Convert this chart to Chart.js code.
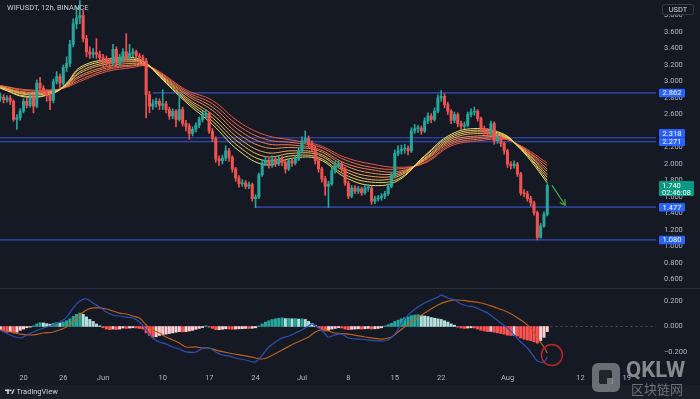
<!DOCTYPE html>
<html><head><meta charset="utf-8">
<script src="https://cdn.jsdelivr.net/npm/chart.js@4.4.1/dist/chart.umd.min.js"></script>
<style>
html,body{margin:0;padding:0;background:#151923;width:700px;height:399px;overflow:hidden;}
#c1{position:absolute;left:0;top:0;}
#c2{position:absolute;left:0;top:288px;}
</style></head><body>
<canvas id="c1" width="700" height="288"></canvas>
<canvas id="c2" width="700" height="111"></canvas>
<script>
// ---------- DATA (12h candles, index 0 = May 16 12:00) ----------
const titleText = 'WIFUSDT, 12h, BINANCE';
const firstOpen = 2.80;
const closes = [
2.81,2.78,2.80,2.76,2.54,2.56,2.64,2.76,2.71,2.81,
2.70,2.98,2.92,2.88,2.83,2.77,3.00,3.06,2.98,3.17,
3.22,3.45,3.70,3.77,3.80,3.52,3.36,3.33,3.35,3.33,
3.29,3.28,3.24,3.22,3.39,3.22,3.29,3.36,3.29,3.34,
3.36,3.31,3.29,3.25,2.84,2.70,2.73,2.76,2.71,2.73,
2.66,2.58,2.64,2.54,2.66,2.49,2.46,2.37,2.42,2.47,
2.54,2.60,2.61,2.40,2.31,2.06,2.04,2.07,2.16,2.08,
1.94,1.83,1.76,1.77,1.73,1.75,1.58,1.60,1.87,2.01,
2.04,1.98,2.06,2.00,2.06,2.02,1.94,2.04,2.01,2.06,
2.16,2.28,2.31,2.24,2.19,2.04,1.94,1.82,1.73,1.76,
1.92,1.98,2.00,1.94,1.77,1.61,1.71,1.67,1.70,1.65,
1.71,1.71,1.55,1.58,1.59,1.61,1.64,1.73,1.86,2.13,
2.16,2.18,2.19,2.16,2.40,2.43,2.43,2.40,2.52,2.58,
2.54,2.64,2.80,2.82,2.72,2.64,2.53,2.60,2.49,2.46,
2.47,2.60,2.63,2.64,2.55,2.43,2.40,2.37,2.49,2.28,
2.31,2.25,2.16,2.00,1.98,2.00,1.88,1.65,1.64,1.58,
1.53,1.41,1.11,1.25,1.39,1.74];
const highs = [
2.86,2.84,2.83,2.83,2.78,2.60,2.67,2.79,2.80,2.85,
2.84,3.02,3.05,2.95,2.90,2.86,3.03,3.12,3.09,3.20,
3.30,3.50,3.76,3.90,3.98,3.86,3.56,3.42,3.40,3.52,
3.37,3.33,3.31,3.28,3.45,3.42,3.33,3.40,3.58,3.45,
3.40,3.38,3.34,3.32,3.28,2.88,2.78,2.80,2.79,2.90,
2.76,2.69,2.67,2.66,2.86,2.69,2.53,2.49,2.45,2.50,
2.57,2.64,2.66,2.63,2.43,2.33,2.10,2.11,2.22,2.19,
2.10,1.96,1.86,1.81,1.80,1.78,1.77,1.63,1.89,2.05,
2.09,2.07,2.10,2.08,2.10,2.09,2.05,2.07,2.07,2.10,
2.20,2.33,2.40,2.34,2.28,2.22,2.06,1.96,1.85,1.79,
1.95,2.03,2.04,2.02,1.96,1.79,1.74,1.74,1.73,1.72,
1.74,1.75,1.73,1.61,1.62,1.64,1.67,1.76,1.89,2.17,
2.22,2.23,2.24,2.22,2.44,2.48,2.47,2.46,2.56,2.62,
2.61,2.68,2.84,2.89,2.85,2.75,2.66,2.63,2.62,2.52,
2.51,2.63,2.67,2.69,2.66,2.57,2.46,2.43,2.52,2.51,
2.35,2.34,2.27,2.18,2.03,2.04,2.02,1.90,1.69,1.67,
1.61,1.55,1.43,1.28,1.42,1.76];
const lows = [
2.76,2.74,2.75,2.72,2.52,2.42,2.53,2.62,2.68,2.69,
2.62,2.68,2.89,2.85,2.76,2.66,2.74,2.97,2.92,2.95,
3.12,3.18,3.42,3.64,3.70,3.48,3.30,3.28,3.29,3.28,
3.23,3.18,3.18,3.16,3.20,3.18,3.19,3.26,3.26,3.27,
3.30,3.27,3.22,3.20,2.56,2.62,2.66,2.69,2.66,2.66,
2.62,2.54,2.55,2.45,2.52,2.46,2.40,2.30,2.34,2.39,
2.44,2.51,2.56,2.37,2.27,2.02,1.98,2.00,2.04,2.03,
1.90,1.79,1.72,1.73,1.70,1.70,1.55,1.47,1.58,1.85,
1.98,1.95,1.96,1.97,1.98,1.98,1.89,1.92,1.97,1.99,
2.04,2.14,2.25,2.20,2.15,2.00,1.90,1.78,1.62,1.47,
1.74,1.89,1.95,1.91,1.74,1.58,1.59,1.64,1.64,1.62,
1.63,1.67,1.51,1.52,1.55,1.56,1.58,1.62,1.71,1.84,
2.10,2.12,2.13,2.11,2.14,2.37,2.38,2.36,2.38,2.49,
2.50,2.52,2.62,2.76,2.68,2.60,2.49,2.50,2.45,2.42,
2.43,2.45,2.57,2.59,2.52,2.40,2.36,2.33,2.35,2.24,
2.25,2.21,2.12,1.96,1.94,1.95,1.85,1.62,1.60,1.55,
1.49,1.38,1.08,1.10,1.23,1.37];

// EMA ribbon, read at these candle indices (fast = ema1 ... slow = ema8)
const ribbonIdx = [0,8,16,20,24,32,40,44,48,56,64,72,80,88,96,104,112,120,128,136,144,152,156,160,165];
const ema1 = [2.92,2.81,2.86,2.98,3.17,3.27,3.29,3.22,3.06,2.75,2.48,2.16,1.99,2.07,2.06,1.84,1.74,1.80,2.10,2.36,2.43,2.36,2.22,2.04,1.77];
const ema2 = [2.92,2.82,2.86,2.97,3.15,3.25,3.27,3.22,3.07,2.77,2.52,2.21,2.04,2.10,2.08,1.87,1.78,1.82,2.09,2.34,2.41,2.35,2.22,2.06,1.80];
const ema3 = [2.93,2.84,2.87,2.96,3.12,3.23,3.26,3.21,3.08,2.79,2.56,2.26,2.09,2.13,2.11,1.91,1.81,1.85,2.07,2.32,2.39,2.34,2.23,2.07,1.84];
const ema4 = [2.93,2.85,2.88,2.96,3.10,3.21,3.24,3.21,3.09,2.81,2.60,2.31,2.14,2.16,2.13,1.94,1.85,1.87,2.06,2.30,2.37,2.33,2.23,2.09,1.87];
const ema5 = [2.94,2.86,2.88,2.95,3.07,3.18,3.22,3.20,3.09,2.84,2.65,2.36,2.20,2.20,2.16,1.98,1.89,1.89,2.05,2.28,2.34,2.33,2.23,2.10,1.91];
const ema6 = [2.94,2.87,2.89,2.94,3.05,3.16,3.20,3.20,3.10,2.86,2.69,2.41,2.25,2.23,2.18,2.01,1.93,1.91,2.04,2.26,2.32,2.32,2.23,2.12,1.94];
const ema7 = [2.95,2.89,2.89,2.94,3.02,3.14,3.19,3.19,3.11,2.88,2.73,2.46,2.30,2.26,2.21,2.05,1.96,1.94,2.02,2.24,2.30,2.31,2.24,2.13,1.98];
const ema8 = [2.95,2.90,2.90,2.93,3.00,3.12,3.17,3.19,3.12,2.90,2.77,2.51,2.35,2.29,2.23,2.08,2.00,1.96,2.01,2.22,2.28,2.30,2.24,2.15,2.01];

// horizontal levels
const levelValues = [2.862, 2.318, 2.271, 1.477, 1.080];
const levelStart  = [46, -1, -1, 77, -1];

// MACD
const macdIdx = [0,3,6,8,10,13,16,18,20,22,24,26,28,30,32,34,36,38,40,42,44,46,48,50,52,54,56,59,61,63,65,67,69,71,74,77,79,81,83,85,87,89,91,93,94,96,98,99,101,103,105,108,111,114,117,119,122,124,126,128,130,132,133,135,137,139,141,143,145,147,149,151,153,155,157,159,161,162,164,165];
const macdVals = [-0.027,-0.066,-0.090,-0.066,-0.043,-0.012,0.012,0.035,0.074,0.145,0.199,0.215,0.184,0.152,0.113,0.090,0.082,0.074,0.066,0.035,-0.027,-0.090,-0.121,-0.137,-0.160,-0.176,-0.199,-0.199,-0.168,-0.168,-0.199,-0.223,-0.230,-0.246,-0.262,-0.277,-0.223,-0.160,-0.121,-0.090,-0.074,-0.051,-0.027,0.004,0.020,-0.012,-0.059,-0.082,-0.066,-0.059,-0.090,-0.098,-0.105,-0.113,-0.105,-0.060,0.060,0.113,0.152,0.184,0.207,0.230,0.246,0.223,0.207,0.176,0.160,0.152,0.129,0.105,0.066,0.027,-0.012,-0.066,-0.121,-0.168,-0.238,-0.270,-0.277,-0.238];
const signalIdx = [0,3,6,10,13,16,20,22,24,26,28,30,32,34,36,38,40,42,44,46,48,50,52,54,56,59,61,63,65,69,74,77,79,81,85,89,93,95,97,99,101,105,110,115,118,120,124,128,132,135,138,141,145,149,153,157,160,162,164,165];
const signalVals = [-0.027,-0.043,-0.059,-0.066,-0.051,-0.043,-0.004,0.035,0.090,0.129,0.145,0.145,0.137,0.121,0.105,0.098,0.082,0.066,0.012,-0.027,-0.051,-0.082,-0.105,-0.129,-0.160,-0.160,-0.168,-0.168,-0.184,-0.207,-0.230,-0.246,-0.254,-0.238,-0.184,-0.129,-0.082,-0.043,-0.027,-0.035,-0.051,-0.059,-0.082,-0.098,-0.082,-0.043,0.035,0.105,0.168,0.199,0.207,0.199,0.184,0.152,0.113,0.051,-0.012,-0.090,-0.160,-0.207];
const hist = [
-0.03,-0.04,-0.045,-0.04,-0.05,-0.045,-0.03,-0.02,-0.01,-0.005,
0.005,0.02,0.03,0.028,0.022,0.018,0.025,0.03,0.028,0.035,
0.045,0.06,0.08,0.095,0.105,0.095,0.075,0.055,0.04,0.02,
0.005,-0.01,-0.02,-0.025,-0.02,-0.025,-0.02,-0.012,-0.015,-0.012,
-0.01,-0.012,-0.015,-0.02,-0.05,-0.07,-0.085,-0.08,-0.07,-0.065,
-0.06,-0.055,-0.05,-0.045,-0.04,-0.042,-0.04,-0.035,-0.03,-0.022,
-0.015,-0.008,0.005,-0.005,-0.015,-0.025,-0.025,-0.022,-0.018,-0.02,
-0.022,-0.02,-0.018,-0.017,-0.015,-0.016,-0.014,-0.01,0.005,0.02,
0.035,0.045,0.055,0.06,0.065,0.068,0.062,0.063,0.06,0.062,
0.058,0.06,0.055,0.04,0.025,0.01,-0.01,-0.025,-0.035,-0.03,
-0.02,-0.015,-0.01,-0.012,-0.02,-0.025,-0.022,-0.02,-0.018,-0.02,
-0.018,-0.015,-0.02,-0.018,-0.015,-0.01,0.005,0.015,0.025,0.04,
0.05,0.06,0.07,0.075,0.085,0.09,0.092,0.085,0.082,0.078,
0.07,0.065,0.06,0.055,0.045,0.035,0.02,0.01,-0.005,-0.012,
-0.015,-0.012,-0.01,-0.012,-0.02,-0.03,-0.035,-0.04,-0.038,-0.045,
-0.05,-0.055,-0.06,-0.068,-0.07,-0.068,-0.075,-0.09,-0.1,-0.105,
-0.11,-0.12,-0.13,-0.11,-0.085,-0.04];

// ticks
const priceTicks = [0.6,0.8,1.0,1.2,1.4,1.6,1.8,2.0,2.2,2.6,2.8,3.0,3.2,3.4,3.6,3.8];
const macdTicks = [0.2, 0, -0.2];
const dateTickIdx = [7,19,31,49,63,77,91,105,119,133,153,175,189];
const dateTickLabels = ['20','26','Jun','10','17','24','Jul','8','15','22','Aug','12','19'];
const countdown = '02:46:08';

// annotations (data units)
const arrowFrom = [166.4, 1.745];
const arrowTo = [170.4, 1.50];
const circleAt = [166.4, -0.223];

// ---------- STYLE / BUILD ----------
const fontFam = 'Roboto, "Liberation Sans", Arial, sans-serif';
Chart.defaults.font.family = fontFam;
Chart.defaults.color = '#b2b5be';
const xMin = -0.09, xMax = 197.8;
const UP = '#26a69a', DOWN = '#ef5350';
const opens = closes.map((c, i) => i === 0 ? firstOpen : closes[i - 1]);
const candleColors = closes.map((c, i) => c >= opens[i] ? UP : DOWN);
const wickData = closes.map((c, i) => ({x: i, y: [lows[i], highs[i]]}));
const bodyData = closes.map((c, i) => ({x: i, y: [opens[i], c]}));

const ribbonSeries = [ema1, ema2, ema3, ema4, ema5, ema6, ema7, ema8];
const ribbonColors = ['#ece06c','#f0cc61','#f2b859','#f3a454','#f29050','#ef7d4d','#eb6a4b','#e65749'];
const ribbonSets = ribbonSeries.map((arr, k) => ({
  type: 'line', data: arr.map((v, j) => ({x: ribbonIdx[j], y: v})),
  borderColor: ribbonColors[k], borderWidth: 1, pointRadius: 0, tension: 0.4, order: 5
}));
const levelSets = levelValues.map((v, k) => ({
  type: 'line', data: [{x: levelStart[k], y: v}, {x: xMax + 1, y: v}],
  borderColor: '#2b4193', borderWidth: 1.6, pointRadius: 0, order: 6
}));

function rr(ctx, x, y, w, h, r) {
  ctx.beginPath(); ctx.moveTo(x + r, y);
  ctx.arcTo(x + w, y, x + w, y + h, r); ctx.arcTo(x + w, y + h, x, y + h, r);
  ctx.arcTo(x, y + h, x, y, r); ctx.arcTo(x, y, x + w, y, r); ctx.closePath();
}

const overlay1 = {
  id: 'overlay1',
  afterDatasetsDraw(chart) {
    const {ctx, scales: {x, y}} = chart;
    const x0 = x.getPixelForValue(arrowFrom[0]), y0 = y.getPixelForValue(arrowFrom[1]);
    const x1 = x.getPixelForValue(arrowTo[0]), y1 = y.getPixelForValue(arrowTo[1]);
    ctx.save(); ctx.strokeStyle = '#46a049'; ctx.lineWidth = 1.3;
    ctx.beginPath(); ctx.moveTo(x0, y0); ctx.lineTo(x1, y1);
    const a = Math.atan2(y1 - y0, x1 - x0), L = 6;
    ctx.moveTo(x1 - L * Math.cos(a - 0.55), y1 - L * Math.sin(a - 0.55));
    ctx.lineTo(x1, y1);
    ctx.lineTo(x1 - L * Math.cos(a + 0.55), y1 - L * Math.sin(a + 0.55));
    ctx.stroke(); ctx.restore();
  },
  afterDraw(chart) {
    const {ctx, chartArea: area, scales: {y}} = chart;
    ctx.save();
    ctx.font = '7.5px ' + fontFam; ctx.textBaseline = 'middle'; ctx.textAlign = 'left';
    ctx.fillStyle = '#c9ccd4'; ctx.fillText(titleText, 7, 8.5);
    const bx = area.right + 3, bw = 26, bh = 8.5;
    const items = levelValues.map(v => ({v, py: y.getPixelForValue(v)})).sort((a, b) => b.py - a.py);
    let prevTop = Infinity;
    items.forEach(it => {
      let c = it.py;
      if (c + bh / 2 > prevTop) c = prevTop - bh / 2;
      prevTop = c - bh / 2;
      ctx.fillStyle = '#2962ff'; rr(ctx, bx, c - bh / 2, bw, bh, 1); ctx.fill();
      ctx.fillStyle = '#ffffff'; ctx.textAlign = 'center';
      ctx.fillText(it.v.toFixed(3), bx + bw / 2, c + 0.5);
    });
    const lp = closes[closes.length - 1], ly = y.getPixelForValue(lp);
    ctx.fillStyle = '#089981'; rr(ctx, bx, ly - 4.5, 35, 15, 1); ctx.fill();
    ctx.fillStyle = '#ffffff'; ctx.textAlign = 'left';
    ctx.fillText(lp.toFixed(3), bx + 3, ly + 0.5);
    ctx.fillText(countdown, bx + 3, ly + 7.5);
    ctx.fillStyle = '#151923'; ctx.strokeStyle = '#363a45'; ctx.lineWidth = 1;
    rr(ctx, 662.5, 4.5, 31, 10, 2); ctx.fill(); ctx.stroke();
    ctx.fillStyle = '#d1d4dc'; ctx.textAlign = 'center'; ctx.fillText('USDT', 678, 9.8);
    ctx.restore();
  }
};

new Chart(document.getElementById('c1'), {
  type: 'bar',
  data: {datasets: [
    {type: 'bar', data: wickData, backgroundColor: candleColors, grouped: false, barThickness: 1, maxBarThickness: 1, order: 1},
    {type: 'bar', data: bodyData, backgroundColor: candleColors, grouped: false, barThickness: 2.4, maxBarThickness: 2.4, minBarLength: 1, order: 0},
    ...ribbonSets, ...levelSets
  ]},
  options: {
    responsive: false, animation: false, devicePixelRatio: 1,
    layout: {padding: 0},
    plugins: {legend: {display: false}, tooltip: {enabled: false}},
    scales: {
      x: {type: 'linear', min: xMin, max: xMax, offset: false, display: false, grid: {display: false, offset: false}},
      y: {type: 'linear', position: 'right', min: 0.497, max: 3.988, bounds: 'data',
        grid: {display: false, drawTicks: false}, border: {display: false},
        afterBuildTicks: s => { s.ticks = priceTicks.map(v => ({value: v})); },
        afterFit: s => { s.width = 44; s.paddingTop = 0; s.paddingBottom = 0; },
        ticks: {autoSkip: false, padding: 8, color: '#b2b5be', font: {size: 7.5}, callback: v => Number(v).toFixed(3)}}
    }
  },
  plugins: [overlay1]
});

// ---------- MACD pane ----------
const histData = hist.map((h, i) => ({x: i, y: h}));
const histColors = hist.map((h, i) => {
  const p = i === 0 ? h : hist[i - 1];
  return h >= 0 ? (h >= p ? '#26a69a' : '#b2dfdb') : (h < p ? '#ff5252' : '#ffcdd2');
});
const macdData = macdVals.map((v, j) => ({x: macdIdx[j], y: v}));
const signalData = signalVals.map((v, j) => ({x: signalIdx[j], y: v}));

const overlay2 = {
  id: 'overlay2',
  beforeDraw(chart) {
    const ctx = chart.ctx; ctx.save();
    ctx.fillStyle = '#1a1e29'; ctx.fillRect(0, 97, 700, 14);
    ctx.strokeStyle = '#2a2e39'; ctx.lineWidth = 1;
    ctx.beginPath(); ctx.moveTo(0, 0.5); ctx.lineTo(700, 0.5); ctx.stroke();
    ctx.restore();
  },
  afterDatasetsDraw(chart) {
    const {ctx, scales: {x, y}} = chart;
    ctx.save(); ctx.strokeStyle = '#b5262d'; ctx.lineWidth = 1.5;
    ctx.beginPath(); ctx.arc(x.getPixelForValue(circleAt[0]), y.getPixelForValue(circleAt[1]), 10.5, 0, Math.PI * 2);
    ctx.stroke(); ctx.restore();
  },
  afterDraw(chart) {
    const ctx = chart.ctx; ctx.save();
    // TradingView footer
    ctx.fillStyle = '#d1d4dc';
    ctx.fillRect(5, 101.5, 4.5, 1.6); ctx.fillRect(7.2, 101.5, 1.6, 4.5);
    ctx.beginPath(); ctx.arc(10.6, 102.4, 0.9, 0, Math.PI * 2); ctx.fill();
    ctx.beginPath(); ctx.moveTo(11.2, 106); ctx.lineTo(13.2, 101.5); ctx.lineTo(14.6, 101.5); ctx.lineTo(12.6, 106); ctx.closePath(); ctx.fill();
    ctx.font = '7.5px ' + fontFam; ctx.textBaseline = 'middle'; ctx.textAlign = 'left';
    ctx.fillText('TradingView', 16.5, 104);
    // watermark
    ctx.fillStyle = 'rgba(165,165,170,0.6)'; rr(ctx, 592, 75, 28, 29, 6); ctx.fill();
    ctx.fillStyle = 'rgba(24,28,38,0.9)'; rr(ctx, 599, 82, 13, 14, 2); ctx.fill();
    ctx.fillStyle = 'rgba(165,165,170,0.6)'; ctx.fillRect(607, 90, 6, 6);
    ctx.font = 'bold 22px ' + fontFam; ctx.fillStyle = 'rgba(210,210,212,0.6)';
    ctx.fillText('QKLW', 626, 83);
    ctx.font = '13px "Noto Sans CJK SC", sans-serif'; ctx.fillStyle = 'rgba(195,195,198,0.5)';
    ctx.fillText('区块链网', 631, 101);
    ctx.restore();
  }
};

new Chart(document.getElementById('c2'), {
  type: 'bar',
  data: {datasets: [
    {type: 'bar', data: histData, backgroundColor: histColors, grouped: false, barThickness: 2.4, maxBarThickness: 2.4, order: 2},
    {type: 'line', data: macdData, borderColor: '#2f4fb4', borderWidth: 1.2, pointRadius: 0, tension: 0.35, order: 0},
    {type: 'line', data: signalData, borderColor: '#b8601e', borderWidth: 1.2, pointRadius: 0, tension: 0.35, order: 1},
    {type: 'line', data: [{x: closes.length, y: 0}, {x: xMax + 1, y: 0}], borderColor: '#4a4e59', borderWidth: 1, borderDash: [2, 3], pointRadius: 0, order: 3}
  ]},
  options: {
    responsive: false, animation: false, devicePixelRatio: 1,
    layout: {padding: 0},
    plugins: {legend: {display: false}, tooltip: {enabled: false}},
    scales: {
      x: {type: 'linear', min: xMin, max: xMax, offset: false, bounds: 'data',
        grid: {display: false, drawTicks: false, offset: false}, border: {display: false},
        afterBuildTicks: s => { s.ticks = dateTickIdx.map(v => ({value: v})); },
        afterFit: s => { s.height = 29; s.paddingLeft = 0; s.paddingRight = 0; },
        ticks: {autoSkip: false, maxRotation: 0, padding: 4, color: '#b2b5be', font: {size: 7.5},
          callback: (v, i) => dateTickLabels[i]}},
      y: {type: 'linear', position: 'right', min: -0.340, max: 0.301, bounds: 'data',
        grid: {display: false, drawTicks: false}, border: {display: false},
        afterBuildTicks: s => { s.ticks = macdTicks.map(v => ({value: v})); },
        afterFit: s => { s.width = 44; s.paddingTop = 0; s.paddingBottom = 0; },
        ticks: {autoSkip: false, padding: 8, color: '#b2b5be', font: {size: 7.5},
          callback: v => v < 0 ? '\u2212' + Math.abs(v).toFixed(3) : Number(v).toFixed(3)}}
    }
  },
  plugins: [overlay2]
});
</script></body></html>
